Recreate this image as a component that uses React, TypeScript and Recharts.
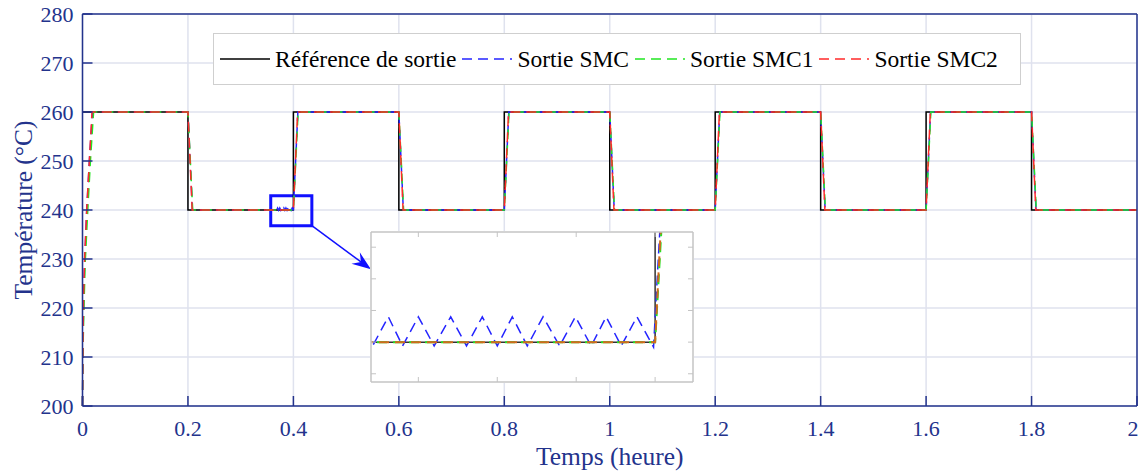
import React from 'react';
import { LineChart, Line, XAxis, YAxis, CartesianGrid, ReferenceArea, ReferenceLine } from 'recharts';

// ---------- data ----------
const xTicks = [0, 0.2, 0.4, 0.6, 0.8, 1, 1.2, 1.4, 1.6, 1.8, 2];
const yTicks = [200, 210, 220, 230, 240, 250, 260, 270, 280];

const refTime = [0, 0.2, 0.2, 0.4, 0.4, 0.6, 0.6, 0.8, 0.8, 1.0, 1.0, 1.2, 1.2, 1.4, 1.4, 1.6, 1.6, 1.8, 1.8, 2.0];
const refTemp = [260, 260, 240, 240, 260, 260, 240, 240, 260, 260, 240, 240, 260, 260, 240, 240, 260, 260, 240, 240];

const smcTime = [0, 0.001, 0.002, 0.004, 0.008, 0.013, 0.019, 0.2, 0.2085,
  0.3642, 0.3662, 0.368, 0.37, 0.372, 0.3741, 0.3761, 0.3781, 0.38, 0.3819, 0.3838, 0.3858, 0.3879, 0.3899, 0.3919, 0.3938, 0.3957, 0.3977, 0.3998,
  0.4085, 0.6, 0.6085, 0.8, 0.8085, 1.0, 1.0085, 1.2, 1.2085, 1.4, 1.4085, 1.6, 1.6085, 1.8, 1.8085, 2.0];
const smcTemp = [200, 214, 221, 229, 240, 250, 260, 260, 240,
  239.94, 240.4, 239.94, 240.4, 239.94, 240.4, 239.94, 240.4, 239.94, 240.4, 239.94, 240.4, 239.94, 240.4, 239.94, 240.4, 239.94, 240.4, 239.92,
  260, 260, 240, 240, 260, 260, 240, 240, 260, 260, 240, 240, 260, 260, 240, 240];

const smc1Time = [0, 0.001, 0.003, 0.005, 0.01, 0.015, 0.021, 0.2, 0.209, 0.4, 0.409, 0.6, 0.609, 0.8, 0.809, 1.0, 1.009, 1.2, 1.209, 1.4, 1.409, 1.6, 1.609, 1.8, 1.809, 2.0];
const smc1Temp = [200, 212, 221, 229, 240, 250, 260, 260, 240, 240, 260, 260, 240, 240, 260, 260, 240, 240, 260, 260, 240, 240, 260, 260, 240, 240];

const smc2Time = [0, 0.001, 0.002, 0.004, 0.008, 0.013, 0.018, 0.2, 0.208, 0.4, 0.408, 0.6, 0.608, 0.8, 0.808, 1.0, 1.008, 1.2, 1.208, 1.4, 1.408, 1.6, 1.608, 1.8, 1.808, 2.0];
const smc2Temp = [200, 214, 222, 230, 240, 250, 260, 260, 240, 240, 260, 260, 240, 240, 260, 260, 240, 240, 260, 260, 240, 240, 260, 260, 240, 240];

const seriesNames = ['Référence de sortie', 'Sortie SMC', 'Sortie SMC1', 'Sortie SMC2'];
const seriesColors = ['#000000', '#2424ff', '#22e622', '#ff2a2a'];

const zoomBoxTime = [0.357, 0.435];
const zoomBoxTemp = [236.8, 242.9];
const arrowEnd = { t: 0.547, v: 227.9 };

const insetTimeDomain = [0.364, 0.4048];
const insetTempDomain = [239.37, 241.74];
const insetXTicks = [0.37, 0.38, 0.39, 0.4];
const insetYTicks = [239.5, 240, 240.5, 241, 241.5];

// ---------- helpers ----------
const toPoints = (ts: number[], vs: number[]) => ts.map((t, i) => ({ t, v: vs[i] }));
const refData = toPoints(refTime, refTemp);
const smcData = toPoints(smcTime, smcTemp);
const smc1Data = toPoints(smc1Time, smc1Temp);
const smc2Data = toPoints(smc2Time, smc2Temp);

const NAVY = '#23338c';
const FONT = '"Liberation Serif", "Times New Roman", serif';
const GRID = '#dfe2ee';
const DASH = '10 6';
const IGRAY = '#c4c4c4';

const BottomTick = (p: any) => {
  const tx = Math.min(p.x, 1133);
  return (
    <g>
      <line x1={p.x} y1={p.y} x2={p.x} y2={p.y - 10} stroke={NAVY} strokeWidth={1.5} />
      <text x={tx} y={p.y + 30} textAnchor="middle" fill={NAVY} fontSize={22} fontFamily={FONT}>{String(p.payload.value)}</text>
    </g>
  );
};
const TopTick = (p: any) => <line x1={p.x} y1={14} x2={p.x} y2={24} stroke={NAVY} strokeWidth={1.5} />;
const LeftTick = (p: any) => (
  <g>
    <line x1={p.x} y1={p.y} x2={p.x + 10} y2={p.y} stroke={NAVY} strokeWidth={1.5} />
    <text x={p.x - 9} y={p.y + 7.5} textAnchor="end" fill={NAVY} fontSize={22} fontFamily={FONT}>{String(p.payload.value)}</text>
  </g>
);
const RightTick = (p: any) => <line x1={1137} y1={p.y} x2={1127} y2={p.y} stroke={NAVY} strokeWidth={1.5} />;

const IBottom = (p: any) => <line x1={p.x} y1={151} x2={p.x} y2={146} stroke={IGRAY} strokeWidth={1} />;
const ITop = (p: any) => <line x1={p.x} y1={1} x2={p.x} y2={6} stroke={IGRAY} strokeWidth={1} />;
const ILeft = (p: any) => <line x1={1} y1={p.y} x2={6} y2={p.y} stroke={IGRAY} strokeWidth={1} />;
const IRight = (p: any) => <line x1={323} y1={p.y} x2={318} y2={p.y} stroke={IGRAY} strokeWidth={1} />;

const XTitle = (props: any) => {
  const vb = props.viewBox || {};
  return (
    <text x={vb.x + vb.width / 2} y={465} textAnchor="middle" fill={NAVY} fontSize={25.5} fontFamily={FONT}>Temps (heure)</text>
  );
};
const YTitle = (props: any) => {
  const vb = props.viewBox || {};
  const cy = vb.y + vb.height / 2;
  return (
    <text x={32} y={cy} transform={`rotate(-90, 32, ${cy})`} textAnchor="middle" fill={NAVY} fontSize={25.5} fontFamily={FONT}>Température (°C)</text>
  );
};

const Arrow = (p: any) => {
  const { x1, y1, x2, y2 } = p;
  if ([x1, y1, x2, y2].some((v) => typeof v !== 'number' || isNaN(v))) return null;
  const dx = x2 - x1;
  const dy = y2 - y1;
  const L = Math.sqrt(dx * dx + dy * dy) || 1;
  const ux = dx / L;
  const uy = dy / L;
  const head = 19;
  const half = 7;
  const bx = x2 - ux * head;
  const by = y2 - uy * head;
  const nx = x2 - ux * head * 0.65;
  const ny = y2 - uy * head * 0.65;
  const pts = `${x2},${y2} ${bx - uy * half},${by + ux * half} ${nx},${ny} ${bx + uy * half},${by - ux * half}`;
  return (
    <g>
      <line x1={x1} y1={y1} x2={nx} y2={ny} stroke="#1010ff" strokeWidth={1.5} />
      <polygon points={pts} fill="#1010ff" />
    </g>
  );
};

const LegendBox = () => (
  <div style={{
    position: 'absolute', left: 213, top: 33, width: 808, height: 52, boxSizing: 'border-box',
    border: '1px solid #cfcfcf', background: '#fff', display: 'flex', alignItems: 'center', paddingLeft: 6,
    fontFamily: FONT, fontSize: 23.5, color: '#000', whiteSpace: 'nowrap',
  }}>
    {seriesNames.map((name, i) => (
      <div key={name} style={{ display: 'flex', alignItems: 'center', marginRight: 6 }}>
        <svg width={50} height={10} style={{ marginRight: 5 }}>
          <line x1={0} y1={5} x2={50} y2={5} stroke={seriesColors[i]} strokeWidth={1.5} strokeDasharray={i === 0 ? undefined : DASH} />
        </svg>
        <span>{name}</span>
      </div>
    ))}
  </div>
);

export default function App() {
  return (
    <div style={{ position: 'fixed', left: 0, top: 0, width: 1139, height: 472, background: '#fff' }}>
      <LineChart width={1139} height={472} margin={{ top: 13, right: 1, bottom: 0, left: 0 }}>
        <CartesianGrid stroke={GRID} strokeWidth={1.5} />
        <XAxis xAxisId={0} type="number" dataKey="t" domain={[0, 2]} ticks={xTicks} height={66}
          tickSize={0} tickMargin={0} tickLine={false} tick={<BottomTick />} interval={0}
          axisLine={{ stroke: NAVY, strokeWidth: 1.5 }} label={<XTitle />} />
        <XAxis xAxisId="top" orientation="top" type="number" dataKey="t" domain={[0, 2]} ticks={xTicks} height={1}
          tickSize={0} tickMargin={0} tickLine={false} tick={<TopTick />} interval={0}
          axisLine={{ stroke: NAVY, strokeWidth: 1.5 }} />
        <YAxis yAxisId={0} type="number" domain={[200, 280]} ticks={yTicks} width={82.5}
          tickSize={0} tickMargin={0} tickLine={false} tick={<LeftTick />} interval={0}
          axisLine={{ stroke: NAVY, strokeWidth: 1.5 }} label={<YTitle />} />
        <YAxis yAxisId="right" orientation="right" type="number" domain={[200, 280]} ticks={yTicks} width={1}
          tickSize={0} tickMargin={0} tickLine={false} tick={<RightTick />} interval={0}
          axisLine={{ stroke: NAVY, strokeWidth: 1.5 }} />
        <Line data={refData} dataKey="v" type="linear" stroke={seriesColors[0]} strokeWidth={1.5} dot={false} activeDot={false} isAnimationActive={false} />
        <Line data={smcData} dataKey="v" type="linear" stroke={seriesColors[1]} strokeWidth={1.5} strokeDasharray={DASH} dot={false} activeDot={false} isAnimationActive={false} />
        <Line data={smc1Data} dataKey="v" type="linear" stroke={seriesColors[2]} strokeWidth={1.5} strokeDasharray={DASH} dot={false} activeDot={false} isAnimationActive={false} />
        <Line data={smc2Data} dataKey="v" type="linear" stroke={seriesColors[3]} strokeWidth={1.5} strokeDasharray={DASH} dot={false} activeDot={false} isAnimationActive={false} />
        <ReferenceArea x1={zoomBoxTime[0]} x2={zoomBoxTime[1]} y1={zoomBoxTemp[0]} y2={zoomBoxTemp[1]}
          fill="none" fillOpacity={0} stroke="#1010ff" strokeWidth={3} />
        <ReferenceLine segment={[{ x: zoomBoxTime[1], y: zoomBoxTemp[0] }, { x: arrowEnd.t, y: arrowEnd.v }]} shape={Arrow} />
      </LineChart>

      <LegendBox />

      <div style={{ position: 'absolute', left: 370, top: 231, width: 324, height: 152, background: '#fff' }}>
        <LineChart width={324} height={152} margin={{ top: 0, right: 0, bottom: 0, left: 0 }}>
          <XAxis xAxisId={0} type="number" dataKey="t" domain={insetTimeDomain} allowDataOverflow ticks={insetXTicks} height={1}
            tickSize={0} tickMargin={0} tickLine={false} tick={<IBottom />} interval={0} axisLine={{ stroke: IGRAY, strokeWidth: 1.5 }} />
          <XAxis xAxisId="top" orientation="top" type="number" dataKey="t" domain={insetTimeDomain} allowDataOverflow ticks={insetXTicks} height={1}
            tickSize={0} tickMargin={0} tickLine={false} tick={<ITop />} interval={0} axisLine={{ stroke: IGRAY, strokeWidth: 1.5 }} />
          <YAxis yAxisId={0} type="number" domain={insetTempDomain} allowDataOverflow ticks={insetYTicks} width={1}
            tickSize={0} tickMargin={0} tickLine={false} tick={<ILeft />} interval={0} axisLine={{ stroke: IGRAY, strokeWidth: 1.5 }} />
          <YAxis yAxisId="right" orientation="right" type="number" domain={insetTempDomain} allowDataOverflow ticks={insetYTicks} width={1}
            tickSize={0} tickMargin={0} tickLine={false} tick={<IRight />} interval={0} axisLine={{ stroke: IGRAY, strokeWidth: 1.5 }} />
          <Line data={refData} dataKey="v" type="linear" stroke="#333" strokeWidth={1.5} dot={false} activeDot={false} isAnimationActive={false} />
          <Line data={smcData} dataKey="v" type="linear" stroke={seriesColors[1]} strokeWidth={1.5} strokeDasharray={DASH} dot={false} activeDot={false} isAnimationActive={false} />
          <Line data={smc1Data} dataKey="v" type="linear" stroke={seriesColors[2]} strokeWidth={2} strokeDasharray={DASH} dot={false} activeDot={false} isAnimationActive={false} />
          <Line data={smc2Data} dataKey="v" type="linear" stroke="#d2691e" strokeWidth={2} strokeDasharray={DASH} dot={false} activeDot={false} isAnimationActive={false} />
        </LineChart>
      </div>
    </div>
  );
}
